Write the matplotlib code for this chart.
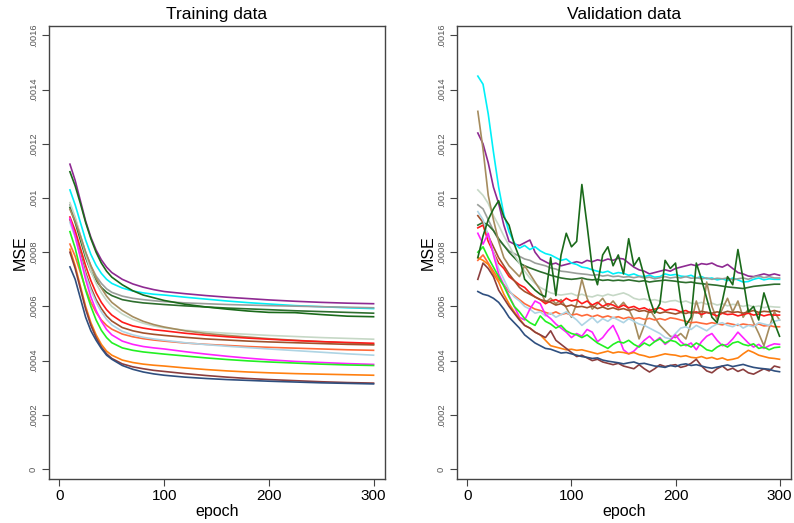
import matplotlib
matplotlib.use("Agg")
import matplotlib.pyplot as plt

plt.rcParams['font.family'] = ['Liberation Sans', 'DejaVu Sans']

# MSE values are given in units of 1e-4
ep_train = [10, 15, 20, 25, 30, 35, 40, 45, 50, 60, 70, 80, 90, 100,
            120, 140, 160, 180, 200, 225, 250, 275, 300]
ep_val = list(range(10, 301, 5))

names = ["purple", "cyan", "gray", "dkgreen_s", "pale", "tan", "red", "brown",
         "orangered", "lightblue", "magenta", "lime", "orange", "maroon",
         "navy", "dkgreen_n"]
colors = ["#8E2A92", "#00F0F8", "#9A9E9A", "#2E6E2E", "#C6D8C6", "#A58C5E",
          "#FF1A1A", "#A0522D", "#FF6A3A", "#AED4E4", "#FF22FF", "#22F022",
          "#FF8010", "#8B3E3E", "#2F4F7F", "#1A6A1A"]

tr_purple = [11.25, 10.65, 9.9, 9.15, 8.55, 8.08, 7.72, 7.45, 7.25, 7.0, 6.83, 6.71, 6.62, 6.55,
             6.47, 6.40, 6.34, 6.29, 6.24, 6.19, 6.15, 6.12, 6.10]
tr_cyan = [10.30, 9.75, 9.10, 8.45, 7.92, 7.52, 7.22, 7.0, 6.85, 6.68, 6.57, 6.50, 6.45, 6.42,
           6.34, 6.27, 6.20, 6.14, 6.09, 6.03, 5.99, 5.95, 5.92]
tr_gray = [9.75, 9.25, 8.62, 8.0, 7.5, 7.12, 6.85, 6.65, 6.52, 6.38, 6.30, 6.25, 6.21, 6.18,
           6.13, 6.10, 6.07, 6.05, 6.03, 6.01, 5.99, 5.97, 5.95]
tr_dkgreen_s = [9.65, 9.1, 8.45, 7.8, 7.3, 6.95, 6.70, 6.52, 6.40, 6.25, 6.18, 6.13, 6.10, 6.07,
                6.02, 5.98, 5.94, 5.91, 5.88, 5.84, 5.81, 5.78, 5.75]
tr_pale = [9.83, 9.3, 8.6, 7.9, 7.3, 6.85, 6.5, 6.22, 6.0, 5.72, 5.52, 5.38, 5.28, 5.21,
           5.12, 5.06, 5.01, 4.97, 4.93, 4.89, 4.85, 4.82, 4.79]
tr_tan = [9.58, 9.15, 8.6, 8.0, 7.5, 7.05, 6.68, 6.38, 6.15, 5.85, 5.62, 5.45, 5.33, 5.24,
          5.10, 5.0, 4.93, 4.87, 4.81, 4.75, 4.70, 4.65, 4.60]
tr_red = [9.3, 8.8, 8.15, 7.5, 6.95, 6.5, 6.15, 5.88, 5.68, 5.42, 5.28, 5.2, 5.14, 5.1,
          5.01, 4.94, 4.88, 4.83, 4.79, 4.74, 4.70, 4.67, 4.64]
tr_brown = [9.2, 8.65, 7.95, 7.25, 6.7, 6.25, 5.92, 5.65, 5.46, 5.22, 5.1, 5.02, 4.97, 4.93,
            4.86, 4.80, 4.76, 4.72, 4.69, 4.66, 4.63, 4.60, 4.58]
tr_orangered = [8.3, 7.85, 7.25, 6.65, 6.15, 5.78, 5.5, 5.3, 5.16, 4.98, 4.88, 4.81, 4.76, 4.72,
                4.65, 4.60, 4.56, 4.52, 4.49, 4.46, 4.43, 4.40, 4.38]
tr_lightblue = [9.1, 8.55, 7.85, 7.15, 6.6, 6.15, 5.8, 5.52, 5.32, 5.08, 4.95, 4.86, 4.8, 4.75,
                4.66, 4.59, 4.53, 4.48, 4.43, 4.37, 4.31, 4.25, 4.20]
tr_magenta = [9.25, 8.6, 7.8, 7.0, 6.35, 5.85, 5.45, 5.15, 4.95, 4.72, 4.6, 4.52, 4.47, 4.43,
              4.33, 4.24, 4.16, 4.09, 4.03, 3.97, 3.93, 3.89, 3.86]
tr_lime = [8.76, 8.15, 7.35, 6.6, 6.0, 5.5, 5.12, 4.85, 4.66, 4.47, 4.38, 4.32, 4.28, 4.24,
           4.17, 4.10, 4.04, 3.99, 3.95, 3.91, 3.87, 3.84, 3.82]
tr_orange = [8.11, 7.5, 6.75, 6.0, 5.4, 4.95, 4.6, 4.35, 4.2, 4.02, 3.93, 3.87, 3.83, 3.8,
             3.73, 3.67, 3.62, 3.58, 3.55, 3.52, 3.5, 3.48, 3.46]
tr_maroon = [8.0, 7.4, 6.65, 5.9, 5.3, 4.85, 4.5, 4.25, 4.08, 3.88, 3.77, 3.70, 3.64, 3.6,
             3.52, 3.45, 3.39, 3.34, 3.30, 3.26, 3.22, 3.19, 3.17]
tr_navy = [7.46, 7.0, 6.3, 5.6, 5.1, 4.75, 4.45, 4.2, 4.05, 3.82, 3.68, 3.58, 3.51, 3.46,
           3.39, 3.34, 3.30, 3.27, 3.24, 3.21, 3.18, 3.16, 3.14]
tr_dkgreen_n = [10.97, 10.45, 9.8, 9.1, 8.5, 8.0, 7.6, 7.3, 7.08, 6.8, 6.58, 6.42, 6.32, 6.22,
                6.08, 5.98, 5.90, 5.83, 5.78, 5.77, 5.70, 5.64, 5.62]

va_purple = [12.4, 12.0, 11.3, 10.4, 9.8, 9.0, 8.4, 8.3, 8.25, 8.35,
             8.45, 8.0, 7.75, 7.65, 7.55, 7.6, 7.5, 7.55, 7.6, 7.65,
             7.6, 7.7, 7.65, 7.72, 7.68, 7.75, 7.7, 7.78, 7.75, 7.6,
             7.45, 7.35, 7.3, 7.2, 7.25, 7.3, 7.35, 7.3, 7.4, 7.45,
             7.5, 7.55, 7.5, 7.58, 7.55, 7.6, 7.5, 7.45, 7.55, 7.4,
             7.25, 7.2, 7.12, 7.1, 7.15, 7.2, 7.15, 7.2, 7.15]
va_cyan = [14.5, 14.2, 13.1, 11.7, 10.4, 9.4, 8.75, 8.35, 8.15, 8.25,
           8.1, 8.2, 8.05, 7.95, 7.9, 7.8, 7.7, 7.75, 7.6, 7.55,
           7.45, 7.42, 7.35, 7.3, 7.25, 7.3, 7.2, 7.25, 7.22, 7.15,
           7.2, 7.12, 7.1, 7.15, 7.08, 7.1, 7.2, 7.15, 7.18, 7.12,
           7.1, 7.15, 7.05, 7.1, 7.02, 7.05, 6.98, 7.02, 6.95, 7.05,
           6.98, 6.9, 6.92, 7.0, 7.05, 6.98, 7.02, 7.0, 7.0]
va_gray = [9.75, 9.6, 9.2, 8.8, 8.45, 8.25, 8.05, 7.95, 7.85, 7.75,
           7.7, 7.6, 7.55, 7.5, 7.42, 7.38, 7.3, 7.28, 7.25, 7.22,
           7.2, 7.18, 7.15, 7.17, 7.12, 7.15, 7.1, 7.12, 7.08, 7.1,
           7.06, 7.1, 7.05, 7.08, 7.02, 7.06, 7.1, 7.05, 7.08, 7.05,
           7.1, 7.04, 7.06, 7.02, 7.05, 7.0, 7.04, 7.02, 7.05, 6.98,
           7.02, 7.05, 7.0, 7.08, 7.12, 7.06, 7.1, 7.05, 7.05]
va_dkgreen_s = [9.0, 9.1, 9.0, 8.8, 8.5, 8.25, 8.0, 7.8, 7.6, 7.5,
                7.42, 7.35, 7.28, 7.22, 7.15, 7.1, 7.05, 7.02, 7.0, 7.02,
                7.05, 7.0, 6.98, 7.0, 6.96, 6.98, 6.95, 6.97, 6.95, 6.98,
                6.95, 6.92, 6.95, 6.9, 6.93, 6.95, 6.97, 6.95, 6.93, 6.9,
                6.88, 6.9, 6.86, 6.84, 6.82, 6.8, 6.78, 6.75, 6.72, 6.7,
                6.68, 6.66, 6.7, 6.74, 6.76, 6.78, 6.8, 6.82, 6.82]
va_pale = [10.3, 10.1, 9.8, 9.35, 9.0, 8.6, 8.25, 7.9, 7.6, 7.3,
           7.05, 6.85, 6.7, 6.6, 6.5, 6.45, 6.42, 6.45, 6.48, 6.4,
           6.45, 6.38, 6.35, 6.42, 6.38, 6.45, 6.4, 6.45, 6.5, 6.42,
           6.3, 6.25, 6.28, 6.22, 6.25, 6.2, 6.15, 6.2, 6.22, 6.15,
           6.2, 6.12, 6.1, 6.15, 6.08, 6.12, 6.05, 6.1, 6.02, 6.08,
           6.05, 6.0, 6.05, 5.98, 6.02, 5.95, 6.0, 5.98, 5.97]
va_tan = [13.2, 11.8, 10.1, 9.2, 8.4, 7.8, 7.5, 7.3, 7.1, 7.5,
          7.2, 6.9, 6.6, 6.15, 6.3, 6.1, 6.25, 5.95, 5.6, 6.1,
          7.0, 6.3, 5.9, 6.1, 6.3, 6.0, 6.2, 5.95, 6.15, 5.9,
          5.5, 4.8, 5.3, 5.9, 5.6, 5.3, 5.1, 4.9, 4.85, 5.0,
          4.8, 5.4, 6.2, 5.6, 6.9, 6.0, 5.5, 5.9, 6.3, 5.8,
          6.2, 5.6, 5.9, 5.4, 5.0, 4.55, 5.2, 5.8, 5.5]
va_red = [8.9, 9.0, 8.4, 8.0, 7.6, 7.4, 7.1, 6.95, 6.8, 6.7,
          6.5, 6.35, 6.25, 6.1, 6.2, 6.25, 6.15, 6.3, 6.2, 6.25,
          6.1, 6.2, 6.05, 6.15, 6.0, 6.1, 6.05, 5.95, 6.05, 5.95,
          6.0, 5.9, 5.95, 5.85, 5.9, 5.95, 5.85, 5.9, 5.88, 5.8,
          5.85, 5.75, 5.8, 5.7, 5.78, 5.72, 5.65, 5.75, 5.7, 5.72,
          5.65, 5.7, 5.75, 5.68, 5.72, 5.65, 5.7, 5.68, 5.68]
va_brown = [9.35, 9.1, 8.6, 8.2, 7.8, 7.5, 7.2, 6.95, 6.7, 6.55,
            6.45, 6.35, 6.25, 6.2, 6.15, 6.05, 6.1, 6.0, 6.05, 5.98,
            6.0, 5.95, 6.02, 5.92, 5.98, 5.9, 5.95, 5.88, 5.92, 5.85,
            5.9, 5.82, 5.85, 5.78, 5.82, 5.75, 5.8, 5.76, 5.72, 5.78,
            5.74, 5.8, 5.76, 5.82, 5.78, 5.75, 5.8, 5.76, 5.82, 5.78,
            5.8, 5.75, 5.8, 5.85, 5.78, 5.82, 5.8, 5.85, 5.8]
va_orangered = [7.7, 7.9, 7.6, 7.3, 7.0, 6.8, 6.55, 6.4, 6.25, 6.1,
                6.0, 5.9, 5.85, 5.78, 5.72, 5.8, 5.7, 5.75, 5.68, 5.72,
                5.65, 5.7, 5.62, 5.68, 5.6, 5.65, 5.58, 5.62, 5.55, 5.6,
                5.55, 5.58, 5.52, 5.56, 5.5, 5.55, 5.5, 5.58, 5.55, 5.5,
                5.45, 5.4, 5.42, 5.38, 5.35, 5.4, 5.36, 5.32, 5.38, 5.34,
                5.3, 5.35, 5.32, 5.3, 5.35, 5.28, 5.3, 5.25, 5.25]
va_lightblue = [9.5, 9.2, 8.6, 8.0, 7.4, 7.0, 6.6, 6.35, 6.2, 6.0,
                5.9, 5.75, 5.8, 5.65, 5.75, 5.6, 5.7, 5.8, 5.65, 5.5,
                5.3, 5.45, 5.6, 5.4, 5.55, 5.45, 5.6, 5.5, 5.4, 5.55,
                5.45, 5.35, 5.3, 5.2, 5.1, 5.0, 4.85, 4.8, 5.0, 5.2,
                5.25, 5.15, 5.3, 5.2, 5.1, 5.25, 5.35, 5.4, 5.3, 5.25,
                5.35, 5.2, 5.3, 5.25, 5.4, 5.35, 5.3, 5.45, 5.5]
va_magenta = [8.7, 8.3, 8.7, 7.9, 7.2, 6.8, 6.4, 6.0, 5.6, 5.5,
              5.9, 6.2, 6.1, 5.7, 5.55, 5.35, 5.2, 5.05, 4.85, 5.0,
              4.9, 5.15, 5.05, 4.7, 4.85, 5.1, 5.3, 4.9, 4.4, 4.25,
              4.35, 4.55, 4.75, 4.9, 4.7, 4.85, 4.6, 4.75, 4.95, 4.7,
              4.55, 4.65, 4.4, 4.7, 4.9, 5.0, 4.75, 4.55, 4.6, 4.8,
              5.05, 4.85, 4.65, 4.5, 4.6, 4.45, 4.55, 4.62, 4.6]
va_lime = [8.0, 8.2, 7.8, 7.45, 7.1, 6.75, 6.35, 6.0, 5.8, 5.55,
           5.4, 5.3, 5.65, 5.45, 5.35, 5.2, 5.3, 5.1, 5.0, 4.95,
           4.85, 4.95, 4.8, 4.65, 4.55, 4.45, 4.6, 4.7, 4.65, 4.75,
           4.6, 4.5, 4.65, 4.55, 4.7, 4.8, 4.65, 4.75, 4.7, 4.55,
           4.6, 4.5, 4.65, 4.55, 4.4, 4.35, 4.5, 4.6, 4.5, 4.65,
           4.7, 4.6, 4.55, 4.62, 4.45, 4.5, 4.4, 4.48, 4.5]
va_orange = [7.8, 7.7, 7.55, 7.2, 6.9, 6.45, 6.1, 5.8, 5.55, 5.3,
             5.2, 5.05, 4.95, 4.75, 4.55, 4.5, 4.45, 4.4, 4.42, 4.38,
             4.4, 4.35, 4.3, 4.25, 4.3, 4.35, 4.28, 4.32, 4.3, 4.25,
             4.3, 4.22, 4.18, 4.12, 4.15, 4.2, 4.25, 4.22, 4.2, 4.15,
             4.18, 4.12, 4.1, 4.15, 4.08, 4.12, 4.05, 4.1, 4.02, 4.05,
             4.1, 4.25, 4.38, 4.3, 4.2, 4.15, 4.1, 4.08, 4.05]
va_maroon = [7.0, 7.6, 7.4, 7.1, 6.6, 6.3, 6.0, 5.75, 5.5, 5.3,
             5.2, 5.05, 4.95, 4.85, 5.1, 4.75, 4.6, 4.45, 4.3, 4.15,
             4.2, 4.1, 4.0, 4.05, 3.95, 3.9, 3.85, 3.9, 3.8, 3.75,
             3.7, 3.85, 3.7, 3.58, 3.7, 3.85, 3.78, 3.82, 3.85, 3.75,
             3.8, 3.9, 4.05, 3.8, 3.62, 3.55, 3.7, 3.8, 3.65, 3.72,
             3.6, 3.68, 3.55, 3.5, 3.6, 3.7, 3.62, 3.8, 3.75]
va_navy = [6.55, 6.45, 6.4, 6.3, 6.15, 5.9, 5.6, 5.4, 5.2, 4.95,
           4.8, 4.65, 4.55, 4.45, 4.42, 4.35, 4.28, 4.3, 4.25, 4.2,
           4.15, 4.12, 4.08, 4.1, 4.02, 3.98, 3.95, 3.92, 3.88, 3.92,
           3.95, 3.88, 3.9, 3.85, 3.8, 3.78, 3.75, 3.82, 3.78, 3.85,
           3.88, 3.82, 3.85, 3.8, 3.75, 3.72, 3.76, 3.8, 3.84, 3.78,
           3.82, 3.86, 3.8, 3.75, 3.72, 3.7, 3.68, 3.62, 3.59]
va_dkgreen_n = [7.8, 8.6, 9.2, 9.6, 9.9, 9.3, 9.0, 8.3, 7.8, 7.0,
                6.8, 6.6, 6.45, 6.35, 7.8, 6.4, 7.9, 8.7, 8.2, 8.4,
                10.5, 9.0, 7.4, 6.8, 7.9, 8.2, 7.5, 7.9, 7.2, 8.5,
                7.5, 7.8, 7.1, 6.3, 5.75, 6.1, 7.7, 7.4, 7.6, 6.2,
                5.3, 5.6, 7.6, 7.0, 6.3, 5.6, 5.4, 6.2, 7.1, 6.8,
                8.1, 7.0, 5.8, 6.0, 5.5, 6.5, 5.9, 5.4, 4.9]

train = [tr_purple, tr_cyan, tr_gray, tr_dkgreen_s, tr_pale, tr_tan, tr_red, tr_brown,
         tr_orangered, tr_lightblue, tr_magenta, tr_lime, tr_orange, tr_maroon,
         tr_navy, tr_dkgreen_n]
val = [va_purple, va_cyan, va_gray, va_dkgreen_s, va_pale, va_tan, va_red, va_brown,
       va_orangered, va_lightblue, va_magenta, va_lime, va_orange, va_maroon,
       va_navy, va_dkgreen_n]

yticks = [0, 0.0002, 0.0004, 0.0006, 0.0008, 0.001, 0.0012, 0.0014, 0.0016]
ylabels = ["0", ".0002", ".0004", ".0006", ".0008", ".001", ".0012", ".0014", ".0016"]

fig = plt.figure(figsize=(7.94, 5.23), dpi=100)
ax1 = fig.add_axes([0.0617, 0.0841, 0.4233, 0.8662])
ax2 = fig.add_axes([0.5756, 0.0841, 0.4206, 0.8662])

for ax, x, series, title in [(ax1, ep_train, train, "Training data"),
                             (ax2, ep_val, val, "Validation data")]:
    for s, c in zip(series, colors):
        ax.plot(x, [v * 1e-4 for v in s], color=c, lw=1.2)
    ax.set_xlim(-10, 311)
    ax.set_ylim(-0.000037, 0.001635)
    ax.set_xticks([0, 100, 200, 300])
    ax.set_yticks(yticks)
    ax.set_yticklabels(ylabels, rotation=90, va="center", fontsize=6.7, color="#555555")
    ax.tick_params(axis="x", labelsize=11, length=5, color="#444444", pad=2)
    ax.tick_params(axis="y", length=5, color="#444444", pad=3)
    for sp in ax.spines.values():
        sp.set_color("#444444")
        sp.set_linewidth(1.0)
    ax.set_title(title, fontsize=12.5, pad=5)
    ax.set_xlabel("epoch", fontsize=11.5, labelpad=1)
    ax.set_ylabel("MSE", fontsize=11.5, labelpad=1)

fig.savefig("out.png", dpi=100)
